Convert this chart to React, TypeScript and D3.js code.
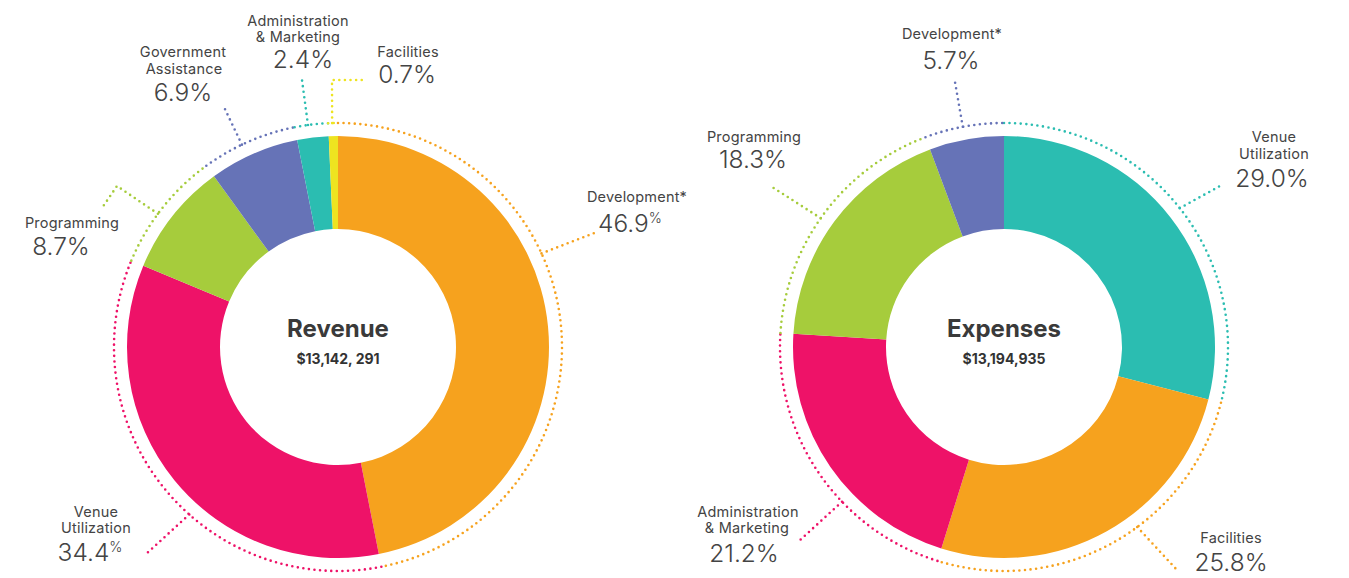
import React from "react";
import * as d3 from "d3";

// ---------- DATA ----------
const revenueCategories = ["Development*", "Venue Utilization", "Programming", "Government Assistance", "Administration & Marketing", "Facilities"];
const revenueValues = [46.9, 34.4, 8.7, 6.9, 2.4, 0.7];
const revenueTitle = "Revenue";
const revenueTotal = "$13,142, 291";

const expenseCategories = ["Venue Utilization", "Facilities", "Administration & Marketing", "Programming", "Development*"];
const expenseValues = [29.0, 25.8, 21.2, 18.3, 5.7];
const expenseTitle = "Expenses";
const expenseTotal = "$13,194,935";

// ---------- STYLE / LAYOUT ----------
const colorMap: Record<string, string> = {
  "Development*": "#F6A21E",
  "Venue Utilization": "#EE1268",
  "Programming": "#A6CC3C",
  "Government Assistance": "#6673B7",
  "Administration & Marketing": "#2BBDB1",
  "Facilities": "#EEE420",
};
const colorMapExp: Record<string, string> = {
  "Venue Utilization": "#2BBDB1",
  "Facilities": "#F6A21E",
  "Administration & Marketing": "#EE1268",
  "Programming": "#A6CC3C",
  "Development*": "#6673B7",
};

const OUTER = 211;
const INNER = 118;
const RING = 224;

type Line = { t: string; x: number; y: number; big?: boolean; sup?: boolean };
type LabelLayout = { angle: number; pts: [number, number][]; lines: Line[] };

const revenueLayout: LabelLayout[] = [
  { angle: 65.3, pts: [[597, 232]], lines: [
    { t: "Development*", x: 637, y: 202 },
    { t: "46.9", x: 630, y: 232, big: true, sup: true },
  ] },
  { angle: 221.6, pts: [[145, 555]], lines: [
    { t: "Venue", x: 96, y: 517 },
    { t: "Utilization", x: 96, y: 533 },
    { t: "34.4", x: 90, y: 561, big: true, sup: true },
  ] },
  { angle: 306.5, pts: [[117, 186], [102, 208]], lines: [
    { t: "Programming", x: 72, y: 228 },
    { t: "8.7%", x: 61, y: 255, big: true },
  ] },
  { angle: 334.6, pts: [[223, 105]], lines: [
    { t: "Government", x: 183, y: 57 },
    { t: "Assistance", x: 184, y: 74 },
    { t: "6.9%", x: 183, y: 101, big: true },
  ] },
  { angle: 352.3, pts: [[302, 80]], lines: [
    { t: "Administration", x: 298, y: 26 },
    { t: "& Marketing", x: 298, y: 42 },
    { t: "2.4%", x: 303, y: 68, big: true },
  ] },
  { angle: 358.5, pts: [[332, 80], [362, 80]], lines: [
    { t: "Facilities", x: 408, y: 57 },
    { t: "0.7%", x: 407, y: 83, big: true },
  ] },
];

const expenseLayout: LabelLayout[] = [
  { angle: 51.7, pts: [[1220, 186]], lines: [
    { t: "Venue", x: 1274, y: 142 },
    { t: "Utilization", x: 1274, y: 159 },
    { t: "29.0%", x: 1272, y: 187, big: true },
  ] },
  { angle: 143.5, pts: [[1177, 570]], lines: [
    { t: "Facilities", x: 1231, y: 543 },
    { t: "25.8%", x: 1231, y: 571, big: true },
  ] },
  { angle: 226.3, pts: [[799, 541]], lines: [
    { t: "Administration", x: 748, y: 517 },
    { t: "& Marketing", x: 747, y: 533 },
    { t: "21.2%", x: 744, y: 562, big: true },
  ] },
  { angle: 305.1, pts: [[769, 185]], lines: [
    { t: "Programming", x: 754, y: 142 },
    { t: "18.3%", x: 753, y: 168, big: true },
  ] },
  { angle: 349.4, pts: [[955, 82]], lines: [
    { t: "Development*", x: 952, y: 39 },
    { t: "5.7%", x: 951, y: 69, big: true },
  ] },
];

const FONT = "Inter, 'Noto Sans', 'DejaVu Sans', sans-serif";
const TEXT = "#444444";

function Donut(props: {
  cx: number; cy: number; cats: string[]; vals: number[]; colors: Record<string, string>;
  layout: LabelLayout[]; title: string; total: string;
}) {
  const { cx, cy, cats, vals, colors, layout, title, total } = props;
  const data = cats.map((c, i) => ({ c, v: vals[i] }));
  const pie = d3.pie<{ c: string; v: number }>().sort(null).value((d) => d.v).startAngle(0).endAngle(Math.PI * 2);
  const arcs = pie(data);
  const arcGen = d3.arc<d3.PieArcDatum<{ c: string; v: number }>>().innerRadius(INNER).outerRadius(OUTER);
  const dot = { fill: "none", strokeWidth: 2.6, strokeDasharray: "0 5.6", strokeLinecap: "round" as const };

  return (
    <g>
      <g transform={`translate(${cx},${cy})`}>
        {arcs.map((a, i) => (
          <path key={i} d={arcGen(a) || ""} fill={colors[a.data.c]} />
        ))}
        {arcs.map((a, i) => {
          const p = d3.path();
          p.arc(0, 0, RING, a.startAngle - Math.PI / 2, a.endAngle - Math.PI / 2);
          return <path key={"r" + i} d={p.toString()} stroke={colors[a.data.c]} {...dot} />;
        })}
      </g>
      {layout.map((l, i) => {
        const col = colors[cats[i]];
        const ang = (l.angle * Math.PI) / 180;
        const sx = cx + RING * Math.sin(ang);
        const sy = cy - RING * Math.cos(ang);
        const line = d3.line()([[sx, sy], ...l.pts]);
        return (
          <g key={"l" + i}>
            <path d={line || ""} stroke={col} {...dot} />
            {l.lines.map((ln, j) =>
              ln.big ? (
                <text key={j} x={ln.x} y={ln.y} textAnchor="middle" fontFamily={FONT} fontWeight={300}
                  fontSize={24.5} fill={TEXT}>
                  {ln.t}
                  {ln.sup ? <tspan fontSize={14} dy={-9}>%</tspan> : null}
                </text>
              ) : (
                <text key={j} x={ln.x} y={ln.y} textAnchor="middle" fontFamily={FONT} fontWeight={400}
                  fontSize={14.5} fill={TEXT} letterSpacing={0.2}>
                  {ln.t}
                </text>
              )
            )}
          </g>
        );
      })}
      <text x={cx} y={cy - 10} textAnchor="middle" fontFamily={FONT} fontWeight={700}
        fontSize={24} fill="#3a3a3a">{title}</text>
      <text x={cx} y={cy + 17} textAnchor="middle" fontFamily={FONT} fontWeight={700}
        fontSize={14} fill="#333">{total}</text>
    </g>
  );
}

export default function App() {
  return (
    <svg width={1349} height={578} style={{ position: "absolute", left: 0, top: 0, background: "#fff" }}>
      <Donut cx={338} cy={347} cats={revenueCategories} vals={revenueValues} colors={colorMap}
        layout={revenueLayout} title={revenueTitle} total={revenueTotal} />
      <Donut cx={1004} cy={347} cats={expenseCategories} vals={expenseValues} colors={colorMapExp}
        layout={expenseLayout} title={expenseTitle} total={expenseTotal} />
    </svg>
  );
}
